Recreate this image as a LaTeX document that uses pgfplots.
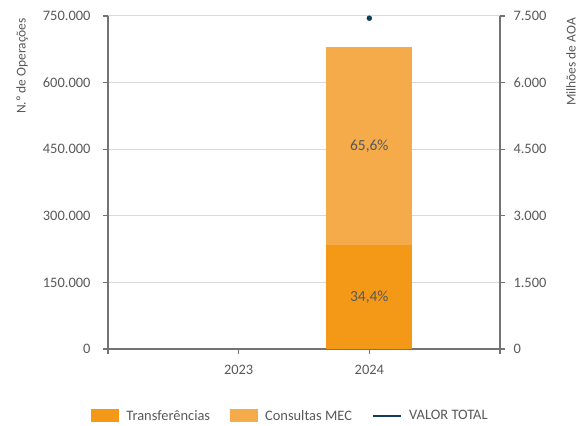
\documentclass[border=0pt]{standalone}
\usepackage{pgfplots}
\pgfplotsset{compat=1.18}
\usepackage{pgfplotstable}
\usepackage{fontspec}
\setmainfont{Carlito}
\definecolor{transf}{RGB}{243,153,23}
\definecolor{consult}{RGB}{245,171,73}
\definecolor{navy}{RGB}{14,62,94}
\definecolor{txt}{RGB}{89,89,89}
\definecolor{axgray}{RGB}{115,115,115}
\definecolor{gridc}{RGB}{217,217,217}

\pgfplotstableread{
x y
2 234000
}\transfdata
\pgfplotstableread{
x y
2 446000
}\consultdata
\pgfplotstableread{
x y
2 7450
}\valordata

\pgfplotsset{
  common/.style={
    at={(108bp,77bp)}, anchor=south west,
    width=392bp, height=333bp, scale only axis,
    xmin=0, xmax=3,
    clip=false,
    scaled y ticks=false,
    /pgf/number format/fixed,
    /pgf/number format/precision=0,
    /pgf/number format/1000 sep={.},
    /pgf/number format/assume math mode=true,
    tick label style={text=txt, font=\fontsize{14.5}{17}\selectfont},
    label style={text=txt, font=\fontsize{13.5}{16}\selectfont},
    axis line style={axgray, line width=1.6bp, -},
    tick style={axgray, line width=1.2bp},
    tick align=outside,
    major tick length=5bp,
  }
}

\begin{document}
\begin{tikzpicture}
\useasboundingbox (0,0) rectangle (587bp,426bp);
\begin{axis}[
  common,
  ymin=0, ymax=750000,
  ybar stacked, bar width=86bp,
  xtick={0,1,2,3}, xticklabels={,2023,2024,},
  xticklabel style={yshift=-8bp},
  yticklabel style={xshift=-9bp},
  ytick={0,150000,300000,450000,600000,750000},
  axis y line*=left, axis x line*=bottom,
  ymajorgrids, grid style={gridc, line width=1bp},
  ylabel={N.º de Operações},
  ylabel style={at={(rel axis cs:-0.2194,0.994)}, anchor=east, rotate=0, inner sep=0pt},
  legend columns=3,
  legend style={draw=none, fill=none, at={(0.4656,-0.201)}, anchor=center,
    font=\fontsize{14.5}{17}\selectfont, text=txt,
    /tikz/every odd column/.append style={column sep=5bp},
    /tikz/every even column/.append style={column sep=18bp}},
  legend cell align=left,
]
\addplot[fill=transf, draw=none,
  nodes near coords={34,4\%},
  every node near coord/.append style={text=txt, font=\fontsize{15.5}{18}\selectfont, anchor=center},
  legend image code/.code={\fill[transf] (0bp,-6.5bp) rectangle (28bp,6.5bp);}]
  table[x=x, y=y] {\transfdata};
\addlegendentry{Transferências}
\addplot[fill=consult, draw=none,
  nodes near coords={65,6\%},
  every node near coord/.append style={text=txt, font=\fontsize{15.5}{18}\selectfont, anchor=center},
  legend image code/.code={\fill[consult] (0bp,-6.5bp) rectangle (28bp,6.5bp);}]
  table[x=x, y=y] {\consultdata};
\addlegendentry{Consultas MEC}
\addlegendimage{legend image code/.code={\draw[navy, line width=2.2bp] (0bp,0bp) -- (28bp,0bp);}}
\addlegendentry{VALOR TOTAL}
\end{axis}
\begin{axis}[
  common,
  ymin=0, ymax=7500,
  ytick={0,1500,3000,4500,6000,7500},
  yticklabel style={xshift=5bp},
  axis x line=none, axis y line*=right,
  ylabel={Milhões de AOA},
  ylabel style={at={(rel axis cs:1.181,0.994)}, anchor=east, rotate=0, inner sep=0pt},
]
\addplot[only marks, mark=*, mark size=2.5bp, navy] table[x=x, y=y] {\valordata};
\end{axis}
\end{tikzpicture}
\end{document}
